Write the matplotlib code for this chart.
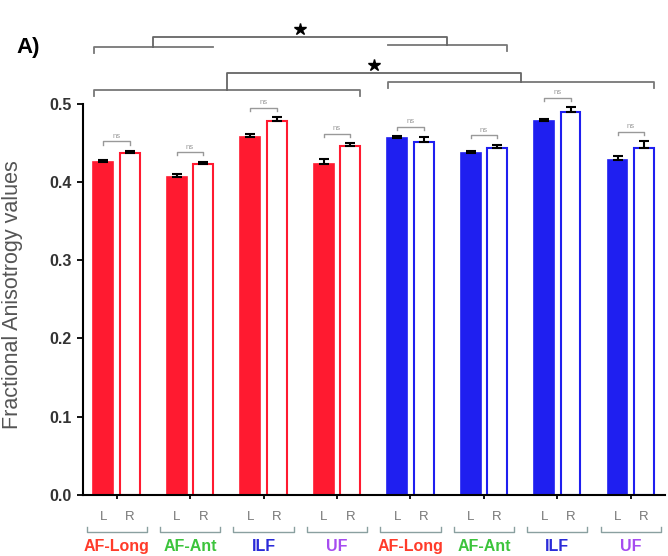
import numpy as np
import matplotlib
matplotlib.use('Agg')
from matplotlib import pyplot as plt

plt.rcParams['font.family'] = ['Liberation Sans', 'DejaVu Sans']

# data
tracts = ['AF-Long', 'AF-Ant', 'ILF', 'UF', 'AF-Long', 'AF-Ant', 'ILF', 'UF']
tract_colors = ['#ff3b2a', '#3cc43c', '#2a2ad8', '#a64cf0', '#ff3b2a', '#3cc43c', '#2a2ad8', '#a64cf0']
left_vals = [0.425, 0.407, 0.457, 0.423, 0.456, 0.437, 0.478, 0.428]
right_vals = [0.437, 0.423, 0.478, 0.446, 0.451, 0.443, 0.490, 0.443]
left_err = [0.003, 0.003, 0.004, 0.007, 0.003, 0.003, 0.003, 0.005]
right_err = [0.003, 0.003, 0.005, 0.004, 0.006, 0.005, 0.006, 0.009]
group_colors = ['#ff1a30'] * 4 + ['#1f1ff0'] * 4
pair_label = 'ns'

x = np.arange(len(tracts))
off = 0.18
w = 0.27
gray = '#777777'

fig = plt.figure(figsize=(6.68, 5.56), dpi=100)
ax = fig.add_axes([0.124, 0.110, 0.872, 0.872])

for i in range(len(tracts)):
    c = group_colors[i]
    ax.bar(x[i] - off, left_vals[i], w, color=c, edgecolor=c, linewidth=1.2, zorder=2)
    ax.bar(x[i] + off, right_vals[i], w, color='white', edgecolor=c, linewidth=1.5, zorder=2)
    ax.errorbar(x[i] - off, left_vals[i], yerr=[[0], [left_err[i]]], fmt='none',
                ecolor='black', elinewidth=1.5, capsize=3.5, capthick=1.5, zorder=3)
    ax.errorbar(x[i] + off, right_vals[i], yerr=[[0], [right_err[i]]], fmt='none',
                ecolor='black', elinewidth=1.5, capsize=3.5, capthick=1.5, zorder=3)
    # pair bracket L vs R
    top = max(left_vals[i] + left_err[i], right_vals[i] + right_err[i]) + 0.012
    ax.plot([x[i] - off, x[i] - off, x[i] + off, x[i] + off],
            [top - 0.004, top, top, top - 0.004], color='#999999', lw=1, clip_on=False)
    ax.text(x[i], top + 0.002, pair_label, ha='center', va='bottom', fontsize=5.5,
            color='#999999')

ax.set_xlim(-0.46, 7.47)
ax.set_ylim(0, 0.62)
ax.spines['top'].set_visible(False)
ax.spines['right'].set_visible(False)
ax.spines['left'].set_bounds(0, 0.5)
ax.spines['left'].set_linewidth(1.5)
ax.spines['bottom'].set_linewidth(1.5)
ax.set_yticks([0.0, 0.1, 0.2, 0.3, 0.4, 0.5])
ax.set_yticklabels(['0.0', '0.1', '0.2', '0.3', '0.4', '0.5'], fontweight='bold',
                   fontsize=11.5, color='#333333')
ax.tick_params(axis='y', length=4, width=1.3, pad=4)
ax.set_xticks(x)
ax.set_xticklabels([''] * len(x))
ax.tick_params(axis='x', length=3, width=1.3)
ax.set_ylabel('Fractional Anisotrogy values', fontsize=15.5, color='#555555')
ax.yaxis.set_label_coords(-0.103, 0.413)

# labels under the axis
for i in range(len(tracts)):
    ax.text(x[i] - off, -0.028, 'L', ha='center', va='center', fontsize=9.5, color=gray,
            clip_on=False)
    ax.text(x[i] + off, -0.028, 'R', ha='center', va='center', fontsize=9.5, color=gray,
            clip_on=False)
    ax.plot([x[i] - 0.41, x[i] - 0.41, x[i] + 0.41, x[i] + 0.41],
            [-0.041, -0.047, -0.047, -0.041], color='#8aa0a0', lw=1, clip_on=False)
    ax.text(x[i], -0.066, tracts[i], ha='center', va='center', fontsize=11.5,
            fontweight='bold', color=tract_colors[i], clip_on=False)

# group comparison brackets
def bracket(x0, x1, y, drop, lw=1.3, color='#777777'):
    ax.plot([x0, x0, x1, x1], [y - drop[0], y, y, y - drop[1]], color=color, lw=lw,
            clip_on=False)

bracket(-0.31, 1.31, 0.573, (0.008, 0.0))
bracket(3.69, 5.31, 0.575, (0.0, 0.008))
bracket(0.5, 4.5, 0.586, (0.013, 0.011), color='#666666')
ax.plot(2.5, 0.596, marker='*', color='black', markersize=9, clip_on=False)

bracket(-0.31, 3.31, 0.518, (0.008, 0.008))
bracket(3.69, 7.31, 0.528, (0.008, 0.008))
bracket(1.5, 5.5, 0.540, (0.022, 0.012), color='#666666')
ax.plot(3.5, 0.550, marker='*', color='black', markersize=9, clip_on=False)

fig.text(0.025, 0.915, 'A)', fontsize=16, fontweight='bold', va='center', ha='left')

fig.savefig('out.png', dpi=100)
